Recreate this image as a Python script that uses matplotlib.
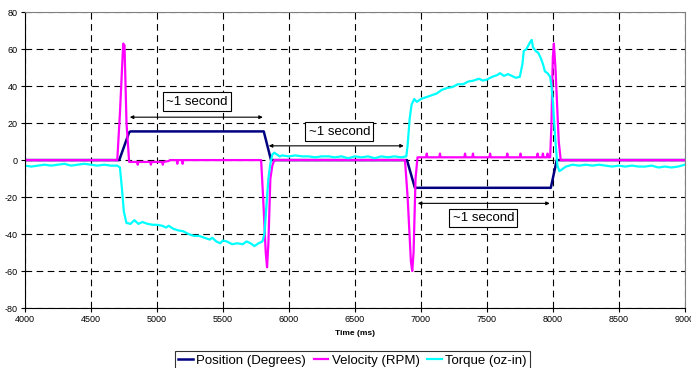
import matplotlib.pyplot as plt

plt.rcParams['font.family'] = ['Liberation Sans', 'DejaVu Sans']
plt.rcParams['axes.unicode_minus'] = False

# Position (degrees)
pos_t = [4000, 4715, 4790, 4800, 5810, 5865, 6895, 6955, 7985, 8030, 9000]
pos_v = [0, 0, 15, 15.5, 15.5, 0, 0, -15, -15, 0, 0]

# Velocity (RPM)
vel_t = [4000, 4700, 4720, 4745, 4755, 4770, 4790, 4820, 4850, 4855, 4860, 4900,
         4950, 4955, 4960, 5000, 5040, 5045, 5050, 5090, 5100, 5150, 5155, 5160,
         5190, 5195, 5200, 5790, 5805, 5825, 5835, 5845, 5860, 5875, 5890,
         6880, 6900, 6925, 6935, 6945, 6960, 6975, 7000, 7040, 7045, 7050, 7100,
         7140, 7145, 7150, 7200, 7330, 7335, 7340, 7390, 7395, 7400, 7520, 7525,
         7530, 7650, 7655, 7660, 7750, 7755, 7760, 7880, 7885, 7890, 7920, 7925,
         7930, 7955, 7960, 7965, 7980, 7990, 8000, 8008, 8020, 8045, 8060, 9000]
vel_v = [0, 0, 25, 63, 62, 20, -1, -1, -1, -2.5, -1, -1,
         -1, -2.5, -1, -1, -1, -2.5, -1, -0.5, 0, 0, -2, 0,
         0, -2, 0, 0, -20, -50, -58, -45, -10, -3, 0,
         0, -20, -55, -60, -50, -10, 1.5, 1.5, 1.5, 3.5, 1.5, 1.5,
         1.5, 3.5, 1.5, 1.5, 1.5, 3.5, 1.5, 1.5, 3.5, 1.5, 1.5, 3.5,
         1.5, 1.5, 3.5, 1.5, 1.5, 3.5, 1.5, 1.5, 3.5, 1.5, 1.5, 3.5,
         1.5, 1.5, 3.5, 1.5, 1.5, 20, 55, 63, 50, 10, 0, 0]

# Torque (oz-in)
tq_t = [4000, 4050, 4100, 4150, 4200, 4250, 4300, 4350, 4400, 4450, 4500, 4550,
        4600, 4650, 4700, 4720, 4735, 4750, 4770, 4800, 4830, 4860, 4890, 4930,
        4970, 5000, 5040, 5070, 5090, 5120, 5160, 5200, 5240, 5280, 5320, 5360,
        5400, 5420, 5450, 5480, 5500, 5530, 5570, 5610, 5650, 5680, 5710, 5740,
        5770, 5800, 5815, 5830, 5845, 5860, 5875, 5890, 5910, 5930, 5950, 6000,
        6050, 6100, 6150, 6200, 6250, 6300, 6350, 6400, 6450, 6500, 6550, 6600,
        6650, 6700, 6750, 6800, 6850, 6890, 6900, 6915, 6930, 6950, 6970, 7000,
        7040, 7080, 7120, 7160, 7200, 7240, 7280, 7320, 7360, 7400, 7440, 7470,
        7500, 7540, 7580, 7600, 7630, 7660, 7690, 7720, 7750, 7770, 7780, 7800,
        7830, 7840, 7850, 7870, 7890, 7910, 7925, 7940, 7960, 7980, 7990, 8000,
        8020, 8035, 8050, 8070, 8100, 8150, 8200, 8250, 8300, 8350, 8400, 8450,
        8500, 8550, 8600, 8650, 8700, 8750, 8800, 8850, 8900, 8950, 9000]
tq_v = [-3, -3.5, -3, -2.5, -3, -2.5, -2, -3, -2.5, -2, -2.5, -3,
        -2.5, -3, -3, -4, -15, -28, -34, -34.5, -32.5, -34.5, -33.5, -34.5,
        -35, -35, -35.5, -36.5, -35.5, -37, -38, -38.5, -40, -41, -41, -42,
        -43, -42, -44, -45, -43.5, -44, -45.5, -45, -45.5, -44, -45, -46.5,
        -45, -44, -40, -25, -10, -2, 3, 4, 3, 2, 2.5, 2,
        2.5, 2, 2, 1.5, 2, 2, 1.5, 2, 1, 2, 1.5, 2,
        1, 2, 1.5, 2, 1.5, 2, 8, 22, 30, 33, 31.5, 33,
        34, 35, 36, 38, 39, 39.5, 41, 41, 42.5, 43, 44, 43,
        43.5, 45, 46, 47, 45.5, 46.5, 45.5, 44.5, 45, 52, 59, 60,
        64, 65, 61, 59, 58, 55, 52, 48, 47, 45, 40, 32,
        10, -3, -6, -5, -3.5, -2.5, -3, -2.5, -3, -2.5, -3, -3.5,
        -3, -3.5, -3, -3.5, -3.5, -3, -4, -3.5, -4, -3.5, -2.5]

fig = plt.figure(figsize=(6.91, 3.68), dpi=100)
ax = fig.add_axes([0.036, 0.163, 0.955, 0.804])

ax.plot(pos_t, pos_v, color='#000080', lw=1.8, label='Position (Degrees)')
ax.plot(vel_t, vel_v, color='#FF00FF', lw=1.6, label='Velocity (RPM)')
ax.plot(tq_t, tq_v, color='#00FFFF', lw=1.6, label='Torque (oz-in)')

ax.set_xlim(4000, 9000)
ax.set_ylim(-80, 80)
ax.set_xticks(range(4000, 9001, 500))
ax.set_yticks(range(-80, 81, 20))
ax.tick_params(labelsize=6.5, length=3, width=0.8, direction='out', pad=2)
ax.grid(True, color='black', linestyle=(0, (6, 4)), linewidth=0.8)
for s in ['top', 'right']:
    ax.spines[s].set_color('#808080')
for s in ['left', 'bottom']:
    ax.spines[s].set_color('black')
ax.set_xlabel('Time (ms)', fontsize=6, fontweight='bold', labelpad=4)

arrow = dict(arrowstyle='<|-|>', color='black', lw=0.8, mutation_scale=5,
             shrinkA=0, shrinkB=0)
box = dict(boxstyle='square,pad=0.25', fc='white', ec='black', lw=0.8)

ax.annotate('', xy=(4795, 23.2), xytext=(5803, 23.2), arrowprops=arrow)
ax.text(5303, 31.6, '~1 second', fontsize=9.5, ha='center', va='center', bbox=box)
ax.annotate('', xy=(5848, 7.7), xytext=(6871, 7.7), arrowprops=arrow)
ax.text(6383, 15.4, '~1 second', fontsize=9.5, ha='center', va='center', bbox=box)
ax.annotate('', xy=(6977, -23.4), xytext=(7977, -23.4), arrowprops=arrow)
ax.text(7474, -31.4, '~1 second', fontsize=9.5, ha='center', va='center', bbox=box)

leg = fig.legend(loc='lower center', bbox_to_anchor=(0.51, -0.005), ncol=3,
                 fontsize=9.5, frameon=True, fancybox=False, edgecolor='black',
                 handlelength=1.1, handletextpad=0.25, columnspacing=0.6,
                 borderpad=0.25, borderaxespad=0)
leg.get_frame().set_linewidth(0.8)

fig.savefig('out.png', dpi=100)
